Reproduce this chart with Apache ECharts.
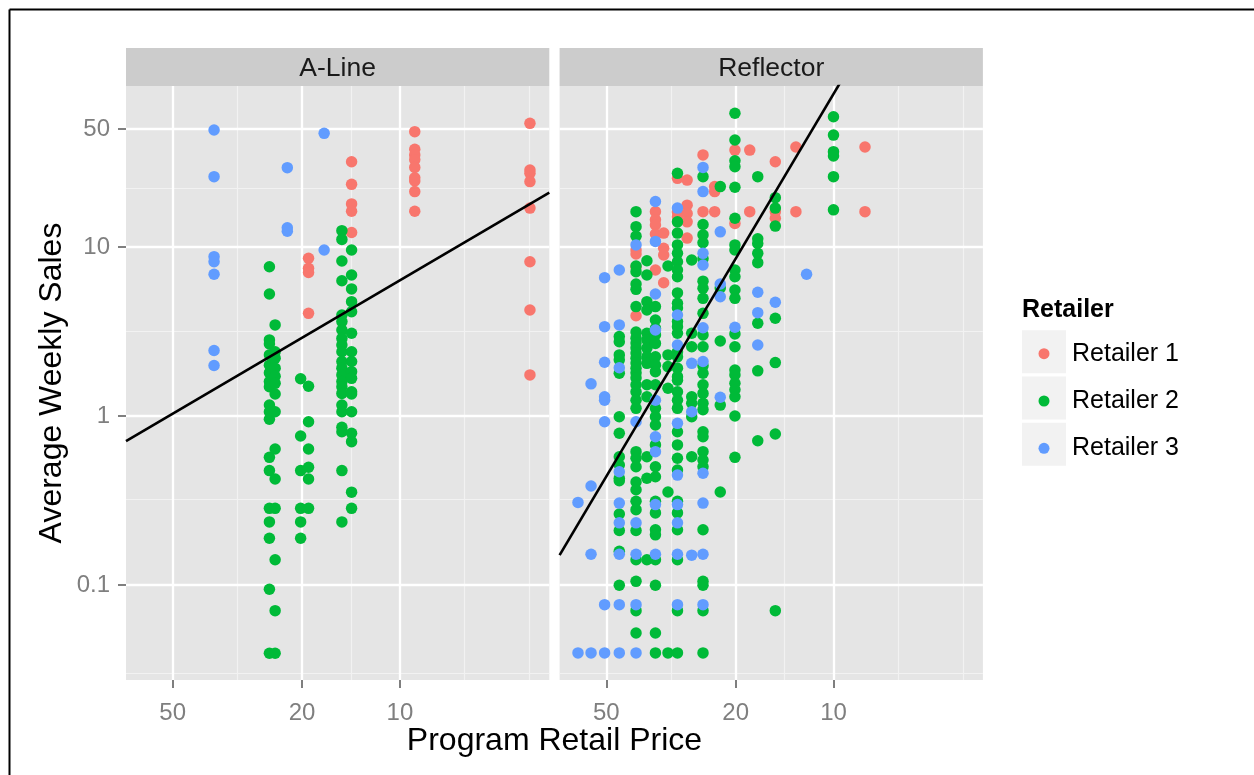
<!DOCTYPE html>
<html>
<head>
<meta charset="utf-8">
<script src="https://cdn.jsdelivr.net/npm/echarts@6/dist/echarts.min.js"></script>
<style>
  html, body { margin: 0; padding: 0; background: #ffffff; }
  #chart { width: 1254px; height: 775px; }
</style>
</head>
<body>
<div id="chart"></div>
<script>
// Weekly sales per price column: [program retail price, [average weekly sales, ...]]
const alineRetailer1 = [
  [19.1, [8.58, 7.49, 7.07, 4.05]],
  [14.08, [32.0, 23.5, 18.0, 16.3, 12.2]],
  [9.0, [48.2, 37.9, 35.1, 32.9, 29.6, 25.7, 24.6, 21.3, 16.3]],
  [3.98, [54.0, 28.6, 27.3, 24.4, 17.0, 8.19, 4.24, 1.75]]
];
const alineRetailer2 = [
  [25.2, [7.65, 5.27, 2.82, 2.67, 2.30, 2.00, 1.80, 1.60, 1.49, 1.16, 1.06, 0.956, 0.569, 0.475, 0.284, 0.236, 0.189, 0.0943, 0.0394]],
  [24.2, [3.46, 2.40, 2.20, 1.92, 1.72, 1.56, 1.35, 1.06, 0.638, 0.424, 0.284, 0.141, 0.0704, 0.0394]],
  [20.2, [1.66, 0.761, 0.475, 0.284, 0.236, 0.189]],
  [19.1, [1.50, 0.925, 0.638, 0.497, 0.424, 0.284]],
  [15.08, [12.5, 11.1, 8.27, 6.32, 3.96, 3.62, 3.23, 2.88, 2.63, 2.40, 2.10, 1.92, 1.75, 1.60, 1.49, 1.36, 1.16, 1.06, 0.857, 0.807, 0.475, 0.236]],
  [14.08, [9.60, 6.83, 5.65, 4.75, 4.14, 3.09, 2.40, 2.10, 1.83, 1.67, 1.39, 1.35, 1.06, 0.790, 0.705, 0.354, 0.284]]
];
const alineRetailer3 = [
  [37.3, [49.3, 26.1, 8.77, 8.19, 6.90, 2.44, 1.99]],
  [22.2, [29.5, 13.0, 12.4]],
  [17.1, [47.1, 9.6]]
];

const reflectorRetailer1 = [
  [40.5, [9.60, 9.10, 7.65, 3.92]],
  [35.3, [16.2, 14.5, 13.5, 11.95, 7.31]],
  [33.3, [12.1, 9.83, 8.97, 6.15]],
  [30.2, [25.5, 16.1, 15.1]],
  [28.2, [24.9, 17.7, 15.8, 14.1, 11.3]],
  [25.2, [35.1, 16.2]],
  [23.2, [22.8, 21.3, 16.2]],
  [20.1, [37.5, 13.8]],
  [18.1, [37.5, 16.2]],
  [15.1, [32.0, 16.2, 14.8]],
  [13.05, [39.1, 16.2]],
  [8.0, [39.1, 16.2]]
];
const reflectorRetailer2 = [
  [45.6, [2.95, 2.75, 2.30, 2.15, 1.79, 0.99, 0.790, 0.574, 0.513, 0.428, 0.414, 0.263, 0.210, 0.158, 0.0995]],
  [40.5, [16.2, 13.2, 11.6, 7.72, 7.15, 6.04, 5.62, 4.44, 3.14, 2.89, 2.70, 2.53, 2.36, 2.20, 2.06, 1.92, 1.80, 1.68, 1.53, 1.39, 1.24, 1.11, 0.615, 0.562, 0.501, 0.407, 0.366, 0.313, 0.279, 0.210, 0.141, 0.105, 0.0704, 0.0519]],
  [37.5, [8.30, 6.83, 4.75, 4.24, 3.09, 2.82, 2.52, 2.24, 2.05, 1.53, 1.30, 0.574, 0.428, 0.141]],
  [35.3, [4.44, 3.70, 3.30, 3.02, 2.69, 2.24, 2.00, 1.83, 1.53, 1.11, 0.99, 0.885, 0.674, 0.501, 0.437, 0.313, 0.267, 0.212, 0.198, 0.141, 0.0995, 0.0519, 0.0396]],
  [32.3, [7.72, 2.30, 1.96, 1.46, 0.355, 0.0396]],
  [30.2, [27.3, 14.1, 12.1, 10.3, 9.18, 8.19, 7.31, 6.67, 5.35, 4.65, 4.36, 3.62, 3.38, 3.09, 2.40, 2.24, 1.92, 1.71, 1.63, 1.39, 1.24, 1.11, 0.807, 0.674, 0.562, 0.479, 0.313, 0.267, 0.212, 0.141, 0.0704, 0.0396]],
  [27.3, [8.38, 3.09, 2.57, 1.30, 1.19, 0.99, 0.574]],
  [25.2, [26.1, 13.6, 11.8, 10.6, 8.52, 6.28, 5.70, 4.97, 4.05, 3.02, 2.57, 1.98, 1.79, 1.53, 1.36, 1.19, 1.09, 0.807, 0.754, 0.615, 0.549, 0.501, 0.212, 0.105, 0.0995, 0.0704, 0.0396]],
  [22.3, [22.8, 5.72, 2.78, 1.16, 0.355]],
  [20.1, [61.9, 43.0, 32.4, 29.9, 22.6, 14.8, 10.3, 9.60, 7.31, 6.67, 5.57, 4.97, 3.06, 2.57, 1.87, 1.75, 1.56, 1.43, 1.30, 1.00, 0.569]],
  [17.1, [26.1, 11.2, 10.5, 9.18, 8.08, 3.54, 1.85, 0.714]],
  [15.1, [19.6, 17.0, 13.3, 3.79, 2.07, 0.782, 0.0704]],
  [10.0, [59.1, 46.0, 36.7, 34.6, 26.1, 16.6]]
];
const reflectorRetailer3 = [
  [61.1, [0.308, 0.0396]],
  [55.7, [1.55, 0.385, 0.152, 0.0396]],
  [50.6, [6.59, 3.38, 2.08, 1.30, 1.24, 0.925, 0.0764, 0.0396]],
  [45.6, [7.31, 3.46, 1.93, 0.468, 0.305, 0.233, 0.152, 0.0764, 0.0396]],
  [40.5, [10.3, 0.925, 0.233, 0.152, 0.0764, 0.0396]],
  [35.3, [18.6, 10.8, 5.27, 3.23, 1.24, 0.754, 0.615, 0.299, 0.152]],
  [30.2, [17.0, 3.96, 2.63, 0.905, 0.447, 0.299, 0.233, 0.152, 0.0764]],
  [27.3, [2.05, 1.06, 0.150]],
  [25.2, [29.6, 21.3, 9.18, 7.83, 3.33, 2.10, 0.458, 0.305, 0.152, 0.0764]],
  [22.3, [12.3, 6.04, 5.08, 1.29]],
  [20.1, [3.35]],
  [17.1, [5.40, 4.09, 2.63]],
  [15.1, [4.71]],
  [12.1, [6.90]]
];

// Fitted trend line end points per panel: [price, sales]
const alineFit = [[69.6, 0.711], [3.47, 20.98]];
const reflectorFit = [[69.6, 0.150], [8.0, 166]];

const panelNames = ['A-Line', 'Reflector'];
const retailerNames = ['Retailer 1', 'Retailer 2', 'Retailer 3'];
const retailerColors = ['#F8766D', '#00BA38', '#619CFF'];

// Axis breaks
const xTicks = [50, 20, 10];
const xMinorBreaks = [31.62, 14.14, 6.325, 4];
const yTicks = [0.1, 1, 10, 50];
const yMinorBreaks = [0.03162, 0.3162, 3.162, 22.36];
const xRange = [3.47, 69.6];
const yRange = [0.02737, 89.8];

const FONT = '"Liberation Sans", Arial, Helvetica, sans-serif';
const panelTop = 86, panelHeight = 594, panelWidth = 423.3;
const panelLefts = [126, 559.6];
const stripTop = 48, stripHeight = 38;

function flatten(cols) {
  const out = [];
  cols.forEach(function (c) { c[1].forEach(function (v) { out.push([c[0], v]); }); });
  return out;
}

const panelData = [
  [alineRetailer1, alineRetailer2, alineRetailer3],
  [reflectorRetailer1, reflectorRetailer2, reflectorRetailer3]
];
const fits = [alineFit, reflectorFit];

const fmt = function (v) { return String(+Number(v).toPrecision(6)); };

const grids = [], xAxes = [], yAxes = [], series = [], graphics = [];

panelLefts.forEach(function (left, i) {
  grids.push({
    left: left, top: panelTop, width: panelWidth, height: panelHeight,
    show: true, backgroundColor: '#E5E5E5', borderWidth: 0, containLabel: false
  });
  xAxes.push({
    type: 'log', logBase: 10, gridIndex: i, min: xRange[0], max: xRange[1], inverse: true,
    axisLine: { show: false },
    splitLine: { show: false },
    axisTick: { show: true, length: 8, customValues: xTicks, lineStyle: { color: '#7F7F7F', width: 2 } },
    axisLabel: { customValues: xTicks, margin: 21, color: '#7F7F7F', fontSize: 24, fontFamily: FONT, formatter: fmt }
  });
  yAxes.push({
    type: 'log', logBase: 10, gridIndex: i, min: yRange[0], max: yRange[1],
    axisLine: { show: false },
    splitLine: { show: false },
    axisTick: { show: i === 0, length: 8, customValues: yTicks, lineStyle: { color: '#7F7F7F', width: 2 } },
    axisLabel: { show: i === 0, customValues: yTicks, margin: 16, color: '#7F7F7F', fontSize: 24, fontFamily: FONT, formatter: fmt }
  });

  // panel grid lines, drawn underneath the points
  const minorStyle = { color: '#F2F2F2', width: 1.2, type: 'solid' };
  const majorStyle = { color: '#FFFFFF', width: 2.3, type: 'solid' };
  const lines = [];
  xMinorBreaks.forEach(function (v) { lines.push({ xAxis: v, lineStyle: minorStyle }); });
  yMinorBreaks.forEach(function (v) { lines.push({ yAxis: v, lineStyle: minorStyle }); });
  xTicks.forEach(function (v) { lines.push({ xAxis: v, lineStyle: majorStyle }); });
  yTicks.forEach(function (v) { lines.push({ yAxis: v, lineStyle: majorStyle }); });
  series.push({
    type: 'scatter', xAxisIndex: i, yAxisIndex: i, data: [], silent: true, z: 1,
    markLine: { silent: true, symbol: ['none', 'none'], label: { show: false }, animation: false, z: 1, data: lines }
  });

  panelData[i].forEach(function (cols, r) {
    series.push({
      type: 'scatter', name: retailerNames[r], xAxisIndex: i, yAxisIndex: i,
      data: flatten(cols), symbol: 'circle', symbolSize: 11.5, z: 5, silent: true,
      itemStyle: { color: retailerColors[r], opacity: 1 },
      emphasis: { disabled: true }
    });
  });

  series.push({
    type: 'line', xAxisIndex: i, yAxisIndex: i, data: fits[i], showSymbol: false, symbol: 'none',
    clip: true, silent: true, z: 20, lineStyle: { color: '#000000', width: 2.6 }
  });

  // facet strip
  graphics.push({
    type: 'rect', left: left, top: stripTop, silent: true,
    shape: { width: panelWidth, height: stripHeight }, style: { fill: '#CCCCCC' }
  });
  graphics.push({
    type: 'text', x: left + panelWidth / 2, y: stripTop + stripHeight / 2 + 1.5, silent: true,
    style: { text: panelNames[i], font: '26.5px ' + FONT, fill: '#1A1A1A', align: 'center', verticalAlign: 'middle' }
  });
});

// outer frame (top and left edges)
graphics.push({ type: 'line', silent: true, shape: { x1: 9.5, y1: 9.5, x2: 1300, y2: 9.5 }, style: { stroke: '#000', lineWidth: 2 } });
graphics.push({ type: 'line', silent: true, shape: { x1: 9.5, y1: 9.5, x2: 9.5, y2: 800 }, style: { stroke: '#000', lineWidth: 2 } });

// axis titles
graphics.push({
  type: 'text', x: (panelLefts[0] + panelLefts[1] + panelWidth) / 2, y: 741, silent: true,
  style: { text: 'Program Retail Price', font: '32px ' + FONT, fill: '#000', align: 'center', verticalAlign: 'middle' }
});
graphics.push({
  type: 'text', x: 52, y: panelTop + panelHeight / 2, rotation: Math.PI / 2, silent: true,
  style: { text: 'Average Weekly Sales', font: '32px ' + FONT, fill: '#000', align: 'center', verticalAlign: 'middle' }
});

// legend title and key backgrounds
graphics.push({
  type: 'text', x: 1022, y: 310.5, silent: true,
  style: { text: 'Retailer', font: 'bold 25px ' + FONT, fill: '#000', align: 'left', verticalAlign: 'middle' }
});
[330.2, 376.5, 422.8].forEach(function (t) {
  graphics.push({
    type: 'rect', left: 1022, top: t, silent: true, z: -1,
    shape: { width: 44, height: 43 }, style: { fill: '#F2F2F2' }
  });
});

const chart = echarts.init(document.getElementById('chart'), null, { renderer: 'canvas' });
chart.setOption({
  backgroundColor: '#FFFFFF',
  animation: false,
  grid: grids,
  xAxis: xAxes,
  yAxis: yAxes,
  legend: {
    data: retailerNames, orient: 'vertical', left: 1038.5, top: 341.2, padding: 0,
    icon: 'circle', itemWidth: 44, itemHeight: 11, itemGap: 22.3, selectedMode: false,
    textStyle: { fontSize: 25, lineHeight: 24, color: '#000', fontFamily: FONT, padding: [0, 0, 0, 1] }
  },
  graphic: graphics,
  series: series
});
</script>
</body>
</html>
